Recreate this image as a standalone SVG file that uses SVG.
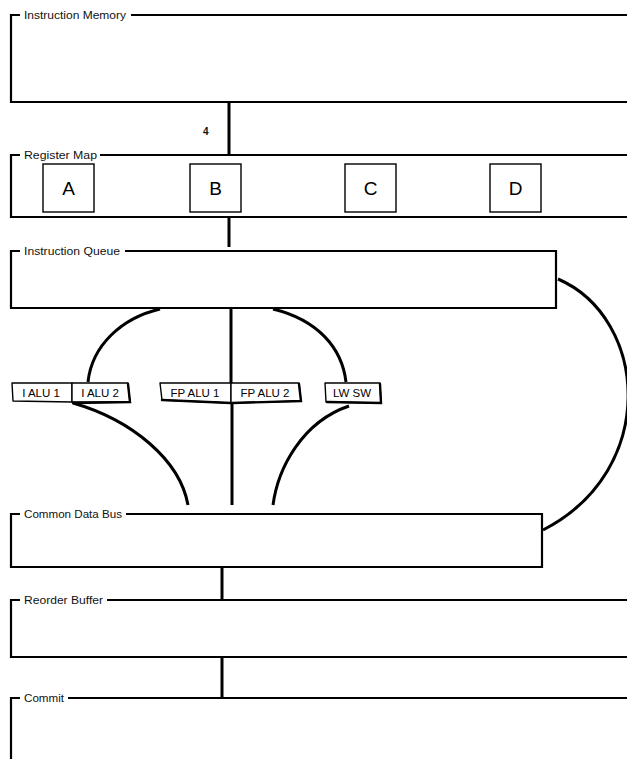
<svg xmlns="http://www.w3.org/2000/svg" width="627" height="759" viewBox="0 0 627 759">
  <style>
    .frame { fill: none; stroke: #000; stroke-width: 2.2; stroke-linejoin: miter; }
    .title { font-family: "Liberation Sans", Arial, sans-serif; font-size: 10.5px; fill: #111; }
    .reg { fill: #fff; stroke: #000; stroke-width: 1.4; }
    .regtxt { font-family: "Liberation Sans", Arial, sans-serif; font-size: 19px; fill: #000; text-anchor: middle; }
    .unit { fill: #fff; stroke: #000; stroke-width: 1.4; stroke-linejoin: round; }
    .unitshade { fill: none; stroke: #000; stroke-width: 2.4; stroke-linecap: round; }
    .unittxt { font-family: "Liberation Sans", Arial, sans-serif; font-size: 11.5px; fill: #000; text-anchor: middle; }
    .wire { fill: none; stroke: #000; stroke-width: 3; stroke-linecap: butt; }
    .note { font-family: "Liberation Sans", Arial, sans-serif; font-size: 10px; font-weight: bold; fill: #111; }
  </style>

  <!-- Instruction Memory -->
  <g id="instruction-memory">
    <path class="frame" d="M11,103 L11,15 L20,15 M131,15 L630,15 M11,102 L630,102"/>
    <text class="title" x="24" y="19" textLength="102" lengthAdjust="spacingAndGlyphs">Instruction Memory</text>
  </g>

  <!-- Register Map -->
  <g id="register-map">
    <path class="frame" d="M11,218 L11,155 L20,155 M100,155 L630,155 M11,217 L630,217"/>
    <text class="title" x="24" y="159" textLength="73" lengthAdjust="spacingAndGlyphs">Register Map</text>
    <g id="reg-a"><rect class="reg" x="43" y="164" width="51" height="48"/><text class="regtxt" x="68.5" y="195">A</text></g>
    <g id="reg-b"><rect class="reg" x="190" y="164" width="51" height="48"/><text class="regtxt" x="215.5" y="195">B</text></g>
    <g id="reg-c"><rect class="reg" x="345" y="164" width="51" height="48"/><text class="regtxt" x="370.5" y="195">C</text></g>
    <g id="reg-d"><rect class="reg" x="490" y="164" width="51" height="48"/><text class="regtxt" x="515.5" y="195">D</text></g>
  </g>

  <!-- Instruction Queue -->
  <g id="instruction-queue">
    <path class="frame" d="M20,251 L11,251 L11,308 L556,308 L556,251 L125,251"/>
    <text class="title" x="24" y="255" textLength="96" lengthAdjust="spacingAndGlyphs">Instruction Queue</text>
  </g>

  <!-- Functional units -->
  <g id="i-alu-1">
    <path class="unit" d="M12,383 L72,383 L72,402 L13,401 Z"/>
    <text class="unittxt" x="41" y="397">I ALU 1</text>
  </g>
  <g id="i-alu-2">
    <path class="unit" d="M72,383 L128,383 L130,402 L72,402 Z"/>
    <path class="unitshade" d="M128,384 L130,402 L73,403"/>
    <text class="unittxt" x="100" y="397">I ALU 2</text>
  </g>
  <g id="fp-alu-1">
    <path class="unit" d="M160,383 L231,383 L231,403 L162,400 Z"/>
    <path class="unitshade" d="M162,400 L231,403"/>
    <text class="unittxt" x="195" y="397">FP ALU 1</text>
  </g>
  <g id="fp-alu-2">
    <path class="unit" d="M231,383 L299,383 L301,401 L231,403 Z"/>
    <path class="unitshade" d="M299,384 L301,401 L232,403"/>
    <text class="unittxt" x="265" y="397">FP ALU 2</text>
  </g>
  <g id="lw-sw">
    <path class="unit" d="M325,383 L380,383 L381,403 L326,402 Z"/>
    <path class="unitshade" d="M380,384 L381,403 L327,402"/>
    <text class="unittxt" x="352" y="397">LW SW</text>
  </g>

  <!-- Common Data Bus -->
  <g id="common-data-bus">
    <path class="frame" d="M20,514 L11,514 L11,567 L542,567 L542,514 L126,514"/>
    <text class="title" x="24" y="518" textLength="98" lengthAdjust="spacingAndGlyphs">Common Data Bus</text>
  </g>

  <!-- Reorder Buffer -->
  <g id="reorder-buffer">
    <path class="frame" d="M11,658 L11,600 L20,600 M107,600 L630,600 M11,657 L630,657"/>
    <text class="title" x="24" y="604" textLength="79" lengthAdjust="spacingAndGlyphs">Reorder Buffer</text>
  </g>

  <!-- Commit -->
  <g id="commit">
    <path class="frame" d="M11,762 L11,698 L20,698 M68,698 L630,698"/>
    <text class="title" x="24" y="702" textLength="40" lengthAdjust="spacingAndGlyphs">Commit</text>
  </g>

  <!-- Connectors -->
  <g id="connectors">
    <path class="wire" d="M229,103 L229,155"/>
    <path class="wire" d="M229,217 L229,247"/>
    <path class="wire" d="M160,309 C122,318 92,345 88,382"/>
    <path class="wire" d="M231,308 L231,383"/>
    <path class="wire" d="M273,309 C318,320 342,348 346,382"/>
    <path class="wire" d="M73,403 C132,420 180,460 188,505"/>
    <path class="wire" d="M232,404 L232,505"/>
    <path class="wire" d="M349,406 C302,422 278,468 273,505"/>
    <path class="wire" d="M558,279 C648,318 660,470 543,530"/>
    <path class="wire" d="M222,567 L222,600"/>
    <path class="wire" d="M222,657 L222,698"/>
    <text class="note" x="203" y="135">4</text>
  </g>
</svg>
